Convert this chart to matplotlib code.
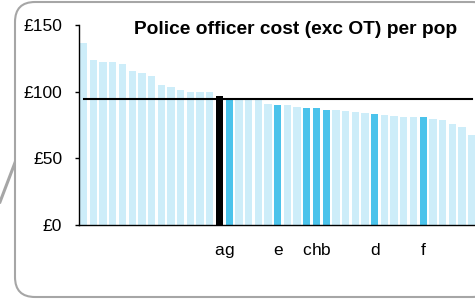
import matplotlib
matplotlib.use("Agg")
import matplotlib.pyplot as plt
from matplotlib.patches import FancyBboxPatch
from matplotlib.lines import Line2D
from matplotlib.transforms import IdentityTransform

plt.rcParams['font.family'] = ['Liberation Sans', 'DejaVu Sans']

# ── data: cost per head of population, sorted high to low ──
values = [136.5, 123.7, 122.5, 122.2, 120.7, 115.7, 114.2, 112.0, 105.2, 103.7,
          101.2, 100.0, 100.0, 99.5, 97.0, 94.3, 94.0, 94.0, 93.8, 90.7,
          90.0, 90.0, 88.3, 87.5, 87.5, 86.5, 86.5, 85.5, 85.0, 84.0,
          83.5, 82.5, 81.5, 81.2, 81.2, 80.8, 79.7, 78.7, 75.5, 73.2,
          67.5]
average = 94.6

# highlighted forces and their labels (first one is the focus force)
highlight_idx = [14, 15, 20, 23, 24, 25, 30, 35]
highlight_labels = ['a', 'g', 'e', 'c', 'h', 'b', 'd', 'f']

yticks = [0, 50, 100, 150]
ytick_labels = ['£0', '£50', '£100', '£150']

title = 'Police officer cost (exc OT) per pop'

LIGHT = '#cdedf9'
MID = '#4bc3eb'
FOCUS = '#000000'
FRAME = '#a6a6a6'

W, H = 475, 299
fig = plt.figure(figsize=(W / 100, H / 100), dpi=100)

# rounded callout frame + pointer (pixel coords), kept behind the axes
frame = FancyBboxPatch((15, 2), 477, 295,
                       boxstyle='round,pad=0,rounding_size=20',
                       transform=IdentityTransform(),
                       facecolor='white', edgecolor=FRAME, linewidth=1.5,
                       zorder=-2)
fig.patches.append(frame)
fig.lines.append(Line2D([0, 16], [H - 202, H - 160], transform=IdentityTransform(),
                        color=FRAME, linewidth=2.2, zorder=-2))

ax = fig.add_axes([79.3 / W, 1 - 225 / H, (W - 79.3) / W, 200 / H])
ax.patch.set_visible(False)

x = list(range(len(values)))
colors = [LIGHT] * len(values)
for i in highlight_idx:
    colors[i] = MID
colors[highlight_idx[0]] = FOCUS

ax.bar(x, values, width=0.75, color=colors, zorder=2)
ax.plot([0, len(values) - 1], [average, average], color='black', linewidth=1.5, zorder=3)

ax.set_xlim(-0.455, 40.34)
ax.set_ylim(0, 150)

ax.set_yticks(yticks)
ax.set_yticklabels(ytick_labels)
ax.set_xticks(highlight_idx)
ax.set_xticklabels(highlight_labels)

ax.tick_params(axis='y', length=3.2, width=1, pad=9, labelsize=12.5, colors='black')
ax.tick_params(axis='x', length=0, pad=13, labelsize=12.5)

for side in ['top', 'right']:
    ax.spines[side].set_visible(False)
ax.spines['left'].set_linewidth(1)
ax.spines['bottom'].set_linewidth(1)

fig.text(296 / W, 1 - 30 / H, title, ha='center', va='center',
         fontsize=13.8, fontweight='bold')

fig.savefig('out.png', dpi=100)
